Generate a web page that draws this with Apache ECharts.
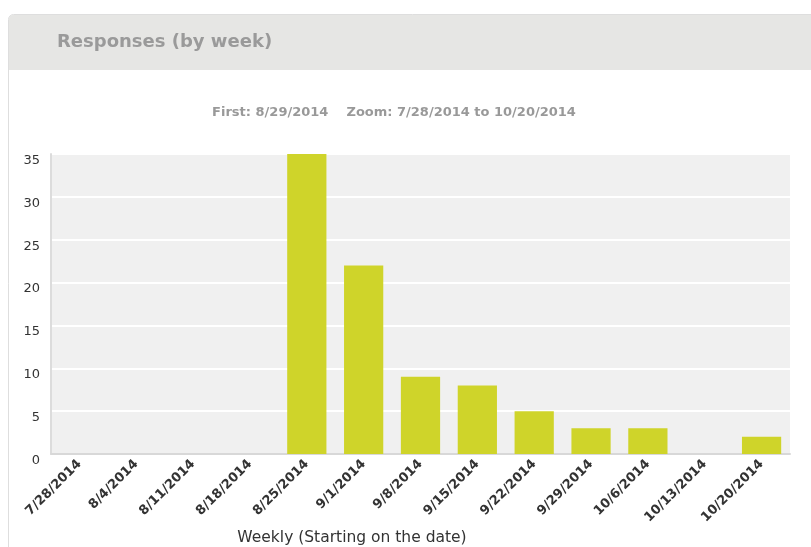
<!DOCTYPE html>
<html>
<head>
<meta charset="utf-8">
<script src="https://cdn.jsdelivr.net/npm/echarts@6/dist/echarts.min.js"></script>
<style>html,body{margin:0;padding:0;background:#fff;}#c{width:811px;height:547px;}</style>
</head>
<body>
<div id="c"></div>
<script>
var titleText = 'Responses (by week)';
var subtitleText = 'First: 8/29/2014    Zoom: 7/28/2014 to 10/20/2014';
var xAxisTitle = 'Weekly (Starting on the date)';
var categories = ['7/28/2014','8/4/2014','8/11/2014','8/18/2014','8/25/2014','9/1/2014','9/8/2014','9/15/2014','9/22/2014','9/29/2014','10/6/2014','10/13/2014','10/20/2014'];
var responses = [0,0,0,0,35,22,9,8,5,3,3,0,2];
var yMin = 0, yMax = 35, yStep = 5;

var chart = echarts.init(document.getElementById('c'), null, {renderer:'canvas'});
var FONT = 'DejaVu Sans';
chart.setOption({
  animation: false,
  backgroundColor: '#ffffff',
  graphic: [
    {type:'rect', z:-10, shape:{x:8.5,y:14.5,width:830,height:600,r:[5,5,0,0]}, style:{fill:'#ffffff',stroke:'#dedede',lineWidth:1}},
    {type:'rect', z:-9, shape:{x:9,y:15,width:830,height:55,r:[4,4,0,0]}, style:{fill:'#e6e6e4'}},
    {type:'text', z:10, x:57, y:42, style:{text:titleText, fill:'#9a9a9a', font:'bold 18px "DejaVu Sans"', textVerticalAlign:'middle', textAlign:'left'}},
    {type:'text', z:10, x:394, y:113, style:{text:subtitleText, fill:'#999999', font:'bold 13px "DejaVu Sans"', textVerticalAlign:'middle', textAlign:'center'}},
    {type:'text', z:10, x:352, y:538, style:{text:xAxisTitle, fill:'#333333', font:'15.5px "DejaVu Sans"', textVerticalAlign:'middle', textAlign:'center'}}
  ],
  grid: {left:51, right:21, top:154, bottom:93, show:true, backgroundColor:'#f0f0f0', borderWidth:0, containLabel:false},
  xAxis: {
    type:'category', data:categories, boundaryGap:true,
    axisLine:{show:true, lineStyle:{color:'#d8d8d8', width:2}},
    axisTick:{show:false},
    axisLabel:{interval:0, rotate:45, margin:8, color:'#333333', fontFamily:FONT, fontWeight:'bold', fontSize:13}
  },
  yAxis: {
    type:'value', min:yMin, max:yMax, interval:yStep,
    axisLine:{show:true, lineStyle:{color:'#dcdcdc', width:2}},
    axisTick:{show:false},
    splitLine:{show:true, lineStyle:{color:'#ffffff', width:2}},
    axisLabel:{margin:11, color:'#333333', fontFamily:FONT, fontSize:13, verticalAlign:'top'}
  },
  series: [{
    type:'bar', data:responses, barCategoryGap:'31%',
    itemStyle:{color:'#cfd42a'}
  }]
});
</script>
</body>
</html>
